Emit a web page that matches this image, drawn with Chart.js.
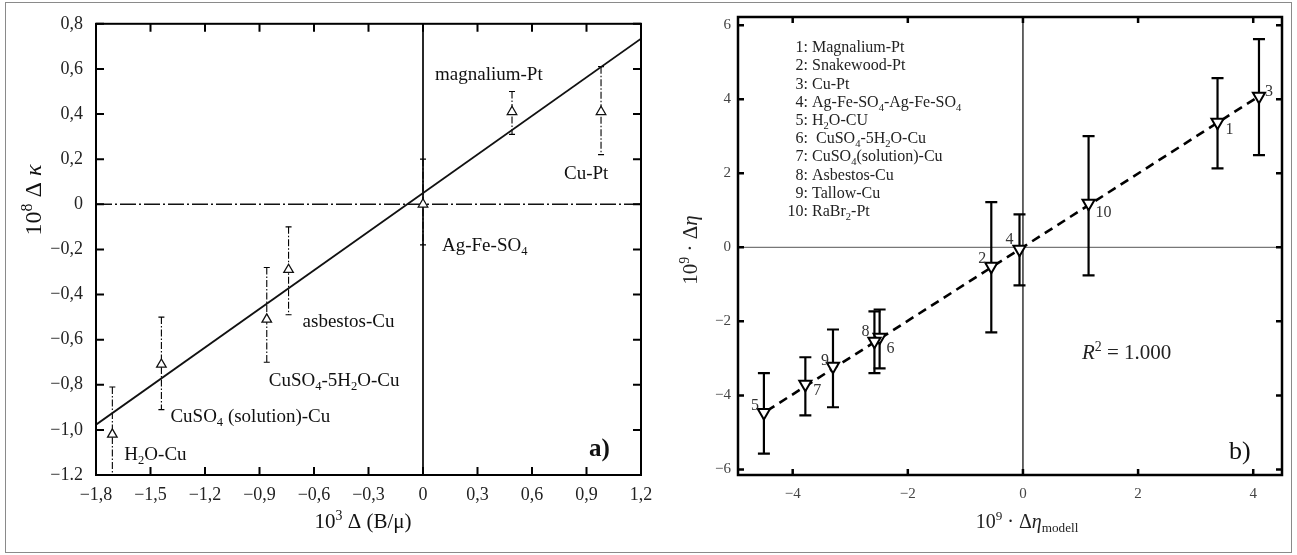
<!DOCTYPE html>
<html>
<head>
<meta charset="utf-8">
<script src="https://cdn.jsdelivr.net/npm/chart.js@4.4.1/dist/chart.umd.min.js"></script>
<style>
html, body { margin: 0; padding: 0; background: #fff; }
#wrap { position: relative; width: 1297px; height: 555px; }
#wrap canvas { position: absolute; left: 0; top: 0; }
#frame { position: absolute; left: 5px; top: 2px; width: 1287px; height: 551px; border: 1.5px solid #8a8a8a; box-sizing: border-box; }
</style>
</head>
<body>
<div id="wrap">
  <canvas id="left" width="1297" height="555"></canvas>
  <canvas id="right" width="1297" height="555"></canvas>
  <div id="frame"></div>
</div>
<script>
var FONT = "'Liberation Serif', 'DejaVu Serif', serif";

// panel a) values
var leftNames = ['H_{2}O-Cu', 'CuSO_{4} (solution)-Cu', 'CuSO_{4}-5H_{2}O-Cu', 'asbestos-Cu', 'Ag-Fe-SO_{4}', 'magnalium-Pt', 'Cu-Pt'];
var leftX = [-1.71, -1.44, -0.86, -0.74, 0, 0.49, 0.98];
var leftY = [-1.02, -0.71, -0.51, -0.29, 0.0, 0.41, 0.41];
var leftHi = [-0.81, -0.5, -0.28, -0.1, 0.2, 0.5, 0.61];
var leftLo = [-1.2, -0.91, -0.7, -0.49, -0.18, 0.31, 0.22];
var leftFitX = [-1.8, 1.2];
var leftFitY = [-0.977, 0.734];
var leftXTicks = [-1.8, -1.5, -1.2, -0.9, -0.6, -0.3, 0, 0.3, 0.6, 0.9, 1.2];
var leftXTickLabels = ['\u22121,8', '\u22121,5', '\u22121,2', '\u22120,9', '\u22120,6', '\u22120,3', '0', '0,3', '0,6', '0,9', '1,2'];
var leftYTicks = [-1.2, -1.0, -0.8, -0.6, -0.4, -0.2, 0, 0.2, 0.4, 0.6, 0.8];
var leftYTickLabels = ['\u22121.2', '\u22121,0', '\u22120,8', '\u22120,6', '\u22120,4', '\u22120,2', '0', '0,2', '0,4', '0,6', '0,8'];

// panel b) values
var rightNums = ['1', '2', '3', '4', '5', '6', '7', '8', '9', '10'];
var rightNames = ['Magnalium-Pt', 'Snakewood-Pt', 'Cu-Pt', 'Ag-Fe-SO_{4}-Ag-Fe-SO_{4}', 'H_{2}O-CU', ' CuSO_{4}-5H_{2}O-Cu', 'CuSO_{4}(solution)-Cu', 'Asbestos-Cu', 'Tallow-Cu', 'RaBr_{2}-Pt'];
var rightX = [3.38, -0.55, 4.1, -0.06, -4.5, -2.49, -3.78, -2.58, -3.3, 1.14];
var rightY = [3.38, -0.51, 4.08, -0.05, -4.46, -2.43, -3.7, -2.54, -3.21, 1.19];
var rightHi = [4.57, 1.22, 5.62, 0.89, -3.4, -1.68, -2.97, -1.73, -2.22, 3.0];
var rightLo = [2.13, -2.3, 2.49, -1.03, -5.57, -3.27, -4.54, -3.4, -4.32, -0.76];
var rightFitX = [-4.45, 4.1];
var rightFitY = [-4.42, 4.08];
var rightXTicks = [-4, -2, 0, 2, 4];
var rightYTicks = [-6, -4, -2, 0, 2, 4, 6];

// label offsets in pixels from the point
var leftLabelOff = [[12, 19], [9, 51], [2, 60], [14, 51], [19, 40], [-77, -38], [-37, 61]];
var rightLabelOff = [[12, 7], [-9, -8], [10, -6], [-10, -10], [-9, -8], [11, 10], [12, 5], [-9, -11], [-8, -6], [15, 8]];

// text with _{sub} ^{sup} *{italic}
function drawRich(ctx, str, x, y, size, align, color) {
  var parts = [];
  var re = /([_^*])\{([^}]*)\}/g, last = 0, m;
  while ((m = re.exec(str))) {
    if (m.index > last) parts.push({t: str.slice(last, m.index), k: ''});
    parts.push({t: m[2], k: m[1]});
    last = re.lastIndex;
  }
  if (last < str.length) parts.push({t: str.slice(last), k: ''});
  function font(p) {
    var s = (p.k == '_' || p.k == '^') ? size * 0.66 : size;
    return (p.k == '*' ? 'italic ' : '') + s + 'px ' + FONT;
  }
  var w = 0;
  parts.forEach(function(p) {
    ctx.font = font(p);
    p.w = ctx.measureText(p.t).width;
    w += p.w;
  });
  var cx = align == 'center' ? x - w / 2 : (align == 'right' ? x - w : x);
  var base = y + size * 0.33;
  ctx.fillStyle = color || '#111';
  ctx.textBaseline = 'alphabetic';
  ctx.textAlign = 'left';
  parts.forEach(function(p) {
    ctx.font = font(p);
    var dy = p.k == '_' ? size * 0.24 : (p.k == '^' ? -size * 0.38 : 0);
    ctx.fillText(p.t, cx, base + dy);
    cx += p.w;
  });
}

function drawFrameTicks(chart, xt, yt, len, lw) {
  var ctx = chart.ctx, a = chart.chartArea;
  var xs = chart.scales.x, ys = chart.scales.y;
  ctx.save();
  ctx.strokeStyle = '#000';
  ctx.lineWidth = lw;
  ctx.strokeRect(a.left, a.top, a.right - a.left, a.bottom - a.top);
  ctx.beginPath();
  xt.forEach(function(v) {
    var px = xs.getPixelForValue(v);
    ctx.moveTo(px, a.bottom); ctx.lineTo(px, a.bottom - len);
    ctx.moveTo(px, a.top); ctx.lineTo(px, a.top + len);
  });
  yt.forEach(function(v) {
    var py = ys.getPixelForValue(v);
    ctx.moveTo(a.left, py); ctx.lineTo(a.left + len, py);
    ctx.moveTo(a.right, py); ctx.lineTo(a.right - len, py);
  });
  ctx.stroke();
  ctx.restore();
}

function errorBars(chart, xv, hi, lo, cap, lw, dash) {
  var ctx = chart.ctx, xs = chart.scales.x, ys = chart.scales.y;
  ctx.save();
  ctx.strokeStyle = '#000';
  ctx.lineWidth = lw;
  for (var i = 0; i < xv.length; i++) {
    var px = xs.getPixelForValue(xv[i]);
    var y1 = ys.getPixelForValue(hi[i]), y2 = ys.getPixelForValue(lo[i]);
    ctx.setLineDash(dash);
    ctx.beginPath();
    ctx.moveTo(px, y1); ctx.lineTo(px, y2);
    ctx.stroke();
    ctx.setLineDash([]);
    ctx.beginPath();
    ctx.moveTo(px - cap, y1); ctx.lineTo(px + cap, y1);
    ctx.moveTo(px - cap, y2); ctx.lineTo(px + cap, y2);
    ctx.stroke();
  }
  ctx.restore();
}

var leftPlugin = {
  id: 'panelA',
  beforeDatasetsDraw: function(chart) {
    var ctx = chart.ctx, a = chart.chartArea;
    var x0 = chart.scales.x.getPixelForValue(0), y0 = chart.scales.y.getPixelForValue(0);
    ctx.save();
    ctx.strokeStyle = '#111';
    ctx.lineWidth = 1.5;
    ctx.setLineDash([16, 3, 2, 3]);
    ctx.beginPath();
    ctx.moveTo(a.left, y0); ctx.lineTo(a.right, y0);
    ctx.stroke();
    ctx.setLineDash([]);
    ctx.lineWidth = 1.8;
    ctx.beginPath();
    ctx.moveTo(x0, a.top); ctx.lineTo(x0, a.bottom);
    ctx.stroke();
    ctx.restore();
    errorBars(chart, leftX, leftHi, leftLo, 3, 1.1, [7, 2, 1.5, 2]);
  },
  afterDraw: function(chart) {
    var ctx = chart.ctx, xs = chart.scales.x, ys = chart.scales.y;
    drawFrameTicks(chart, leftXTicks, leftYTicks, 8, 2);
    leftNames.forEach(function(n, i) {
      var px = xs.getPixelForValue(leftX[i]) + leftLabelOff[i][0];
      var py = ys.getPixelForValue(leftY[i]) + leftLabelOff[i][1];
      drawRich(ctx, n, px, py, 19, 'left');
    });
    ctx.save();
    ctx.font = 'bold 25px ' + FONT;
    ctx.fillStyle = '#111';
    ctx.textBaseline = 'middle';
    ctx.fillText('a)', 589, 450);
    ctx.restore();
    drawRich(ctx, '10^{3} \u0394 (B/\u03bc)', 363, 521, 21, 'center');
    ctx.save();
    ctx.translate(33, 200);
    ctx.rotate(-Math.PI / 2);
    drawRich(ctx, '10^{8} \u0394 *{\u03ba}', 0, 0, 24, 'center');
    ctx.restore();
  }
};

var rightPlugin = {
  id: 'panelB',
  beforeDatasetsDraw: function(chart) {
    var ctx = chart.ctx, a = chart.chartArea;
    var x0 = chart.scales.x.getPixelForValue(0), y0 = chart.scales.y.getPixelForValue(0);
    ctx.save();
    ctx.lineWidth = 1.2;
    ctx.strokeStyle = '#777';
    ctx.beginPath();
    ctx.moveTo(a.left, y0); ctx.lineTo(a.right, y0);
    ctx.stroke();
    ctx.strokeStyle = '#000';
    ctx.beginPath();
    ctx.moveTo(x0, a.top); ctx.lineTo(x0, a.bottom);
    ctx.stroke();
    ctx.restore();
    errorBars(chart, rightX, rightHi, rightLo, 6, 2.2, []);
  },
  afterDraw: function(chart) {
    var ctx = chart.ctx, xs = chart.scales.x, ys = chart.scales.y;
    drawFrameTicks(chart, rightXTicks, rightYTicks, 6, 2.5);
    rightNums.forEach(function(n, i) {
      var px = xs.getPixelForValue(rightX[i]) + rightLabelOff[i][0];
      var py = ys.getPixelForValue(rightY[i]) + rightLabelOff[i][1];
      drawRich(ctx, n, px, py, 16, 'center', '#333');
      drawRich(ctx, n + ':', 808, 47 + 18.2 * i, 16, 'right', '#222');
      drawRich(ctx, rightNames[i], 812, 47 + 18.2 * i, 16, 'left', '#222');
    });
    drawRich(ctx, '*{R}^{2} = 1.000', 1082, 352, 21, 'left', '#222');
    drawRich(ctx, 'b)', 1229, 450, 26, 'left', '#111');
    drawRich(ctx, '10^{9} \u00b7 \u0394*{\u03b7}_{modell}', 1027, 521, 20, 'center', '#222');
    ctx.save();
    ctx.translate(690, 250);
    ctx.rotate(-Math.PI / 2);
    drawRich(ctx, '10^{9} \u00b7 \u0394*{\u03b7}', 0, 0, 21, 'center', '#222');
    ctx.restore();
  }
};

function scaleOpts(min, max, vals, labels, size, pad, color, fit) {
  return {
    type: 'linear',
    min: min,
    max: max,
    grid: { display: false, drawTicks: false },
    border: { display: false },
    afterBuildTicks: function(s) { s.ticks = vals.map(function(v) { return {value: v}; }); },
    afterFit: fit,
    ticks: {
      padding: pad,
      autoSkip: false,
      maxRotation: 0,
      color: color,
      font: { family: FONT, size: size },
      callback: function(v, i) { return labels[i]; }
    }
  };
}

var minusLabels = function(vals) {
  return vals.map(function(v) { return v < 0 ? '\u2212' + (-v) : String(v); });
};

new Chart(document.getElementById('left'), {
  type: 'scatter',
  data: {
    datasets: [{
      data: leftX.map(function(x, i) { return {x: x, y: leftY[i]}; }),
      pointStyle: 'triangle',
      pointRadius: 5.5,
      borderWidth: 1.3,
      borderColor: '#111',
      backgroundColor: '#fff',
      order: 0
    }, {
      data: leftFitX.map(function(x, i) { return {x: x, y: leftFitY[i]}; }),
      showLine: true,
      pointRadius: 0,
      borderColor: '#111',
      borderWidth: 1.8,
      order: 1
    }]
  },
  options: {
    responsive: false,
    animation: false,
    devicePixelRatio: 1,
    layout: { padding: { top: 18, right: 656, left: 0, bottom: 0 } },
    plugins: { legend: { display: false }, tooltip: { enabled: false } },
    scales: {
      x: scaleOpts(-1.8, 1.2, leftXTicks, leftXTickLabels, 18, 9, '#222', function(s) { s.height = 80; }),
      y: scaleOpts(-1.2, 0.8, leftYTicks, leftYTickLabels, 18, 13, '#222', function(s) { s.width = 96; })
    }
  },
  plugins: [leftPlugin]
});

new Chart(document.getElementById('right'), {
  type: 'scatter',
  data: {
    datasets: [{
      data: rightX.map(function(x, i) { return {x: x, y: rightY[i]}; }),
      pointStyle: 'triangle',
      rotation: 180,
      pointRadius: 7,
      borderWidth: 2,
      borderColor: '#000',
      backgroundColor: '#fff',
      order: 0
    }, {
      data: rightFitX.map(function(x, i) { return {x: x, y: rightFitY[i]}; }),
      showLine: true,
      pointRadius: 0,
      borderColor: '#000',
      borderWidth: 2.6,
      borderDash: [9, 6],
      order: 1
    }]
  },
  options: {
    responsive: false,
    animation: false,
    devicePixelRatio: 1,
    layout: { padding: { top: 17, right: 15, left: 0, bottom: 0 } },
    plugins: { legend: { display: false }, tooltip: { enabled: false } },
    scales: {
      x: scaleOpts(-4.95, 4.5, rightXTicks, minusLabels(rightXTicks), 15, 10, '#444', function(s) { s.height = 80; }),
      y: scaleOpts(-6.15, 6.22, rightYTicks, minusLabels(rightYTicks), 15, 7, '#444', function(s) { s.width = 738; })
    }
  },
  plugins: [rightPlugin]
});
</script>
</body>
</html>
